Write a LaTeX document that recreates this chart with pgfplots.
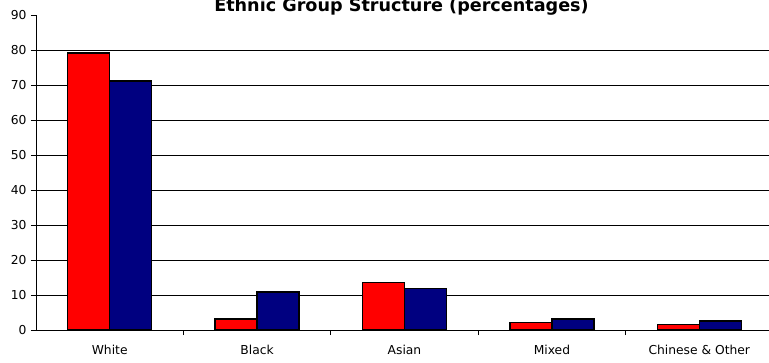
\documentclass[border=0pt]{standalone}
\usepackage{pgfplots}
\pgfplotsset{compat=1.18}
\usepackage{fontspec}
\setmainfont{DejaVu Sans}
\definecolor{barred}{RGB}{255,0,0}
\definecolor{barblue}{RGB}{0,0,128}
\begin{document}
\begin{tikzpicture}
\begin{axis}[
  at={(0,0)}, anchor=south west,
  scale only axis,
  width=737bp, height=315bp,
  xmin=-0.5, xmax=4.5,
  ymin=0, ymax=90,
  ytick={0,10,...,90},
  extra y ticks={10,20,...,80},
  extra y tick labels={},
  extra y tick style={ymajorgrids=true, major tick length=0pt, grid style={black, line width=0.8bp}},
  xtick={0,1,2,3,4},
  xticklabels={White,Black,Asian,Mixed,Chinese \& Other},
  minor xtick={0.5,1.5,2.5,3.5,4.5},
  major x tick style={draw=none},
  minor tick length=5bp,
  major tick length=5bp,
  tick align=outside,
  axis x line*=bottom,
  axis y line*=left,
  axis line style={black, line width=0.8bp},
  tick style={black, line width=0.8bp},
  ticklabel style={font=\fontsize{12.3bp}{14bp}\selectfont},
  yticklabel style={xshift=-1bp},
  xticklabel style={yshift=-7bp},
  /pgf/number format/assume math mode=true,
  ybar, bar width=42bp,
  clip=false,
]
\addplot[fill=barred, draw=black, line width=1.4bp, bar shift=-21bp] coordinates {(0,79.1) (1,3.1) (2,13.5) (3,2.2) (4,1.6)};
\addplot[fill=barblue, draw=black, line width=1.4bp, bar shift=21bp] coordinates {(0,71.1) (1,10.9) (2,11.9) (3,3.1) (4,2.6)};
\node[anchor=base, inner sep=0pt, font=\fontsize{17.6bp}{19bp}\selectfont\bfseries] at ([yshift=4bp, xshift=-3bp]rel axis cs:0.5,1) {Ethnic Group Structure (percentages)};
\end{axis}
\pgfresetboundingbox
\useasboundingbox (-36bp,-33bp) rectangle (733bp,330bp);
\end{tikzpicture}
\end{document}
